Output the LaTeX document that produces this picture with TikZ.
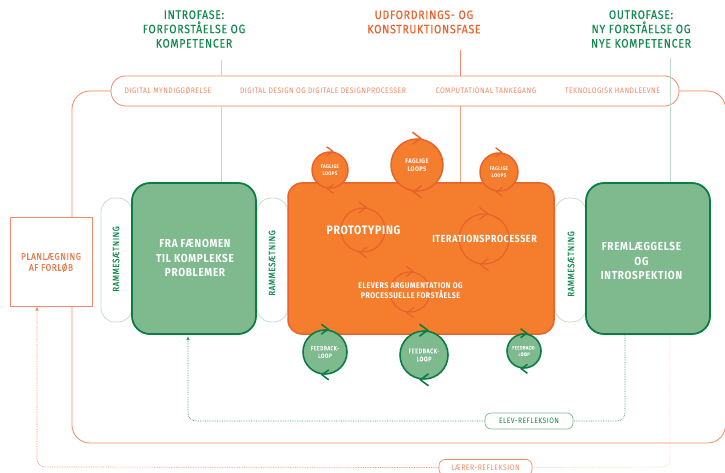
\documentclass[tikz,border=0pt]{standalone}
\usepackage{fontspec}
\setmainfont[FakeStretch=0.86,LetterSpace=6]{Fira Sans}
\usetikzlibrary{arrows.meta}
\definecolor{gline}{HTML}{0A7D45}
\definecolor{gfill}{HTML}{7FBA8F}
\definecolor{gpale}{HTML}{BFDCC8}
\definecolor{gtext}{HTML}{12894F}
\definecolor{oline}{HTML}{E8622C}
\definecolor{ofill}{HTML}{F47E2E}
\definecolor{oframe}{HTML}{F28A66}
\definecolor{opale}{HTML}{FBCDB8}
\newcommand{\semi}{\addfontfeature{FakeBold=0.25}}
\tikzset{
 txt/.style={inner sep=0pt,align=center},
 head/.style={txt,font=\fontsize{12.2}{14.3}\selectfont\semi},
 greenbox/.style={draw=gline,line width=1.8pt,fill=gfill,rounded corners=18pt,minimum width=124pt,minimum height=151pt,inner sep=0pt},
 frameb/.style={draw=gpale,line width=.7pt,fill=white,rounded corners=14pt,minimum width=31pt,minimum height=124pt,inner sep=0pt},
 rotlab/.style={txt,rotate=90,text=gtext,font=\fontsize{9.3}{10}\selectfont\semi},
 orangec/.style={circle,draw=oline,line width=1.5pt,fill=ofill,inner sep=0pt,text=white,align=center},
 greenc/.style={circle,draw=gline,line width=1.6pt,fill=gfill,inner sep=0pt,text=white,align=center},
 ring/.style={circle,draw=oline,line width=1.2pt,inner sep=0pt},
 pilllab/.style={txt,text=oframe,font=\fontsize{8}{9}\selectfont},
 boxtxt/.style={txt,text=white,font=\fontsize{11.6}{14.5}\selectfont\bfseries},
 elevdash/.style={draw=gline!80,line width=.7pt,densely dotted,rounded corners=8pt},
 larerdash/.style={draw=oframe,line width=.7pt,densely dotted,rounded corners=8pt},
}
% chevron pair on a circle: centre node, arm size, colour, line width
\newcommand{\loopmarks}[4]{%
 \path (#1.north) coordinate (ct) (#1.south) coordinate (cb);
 \draw[#3,line width=#4,line cap=butt,line join=miter] ([shift={(-#2*0.75pt,-#2*1pt)}]ct) -- ([shift={(#2*0.6pt,0pt)}]ct) -- ([shift={(-#2*0.75pt,#2*1pt)}]ct);
 \draw[#3,line width=#4,line cap=butt,line join=miter] ([shift={(#2*0.75pt,-#2*1pt)}]cb) -- ([shift={(-#2*0.6pt,0pt)}]cb) -- ([shift={(#2*0.75pt,#2*1pt)}]cb);
}
\begin{document}
\begin{tikzpicture}[x=1pt,y=-1pt]
\useasboundingbox (0,0) rectangle (725,473);
\clip (0,0) rectangle (725,473);
% headers
\node[head,text=gtext] (h1) at (194,29) {INTROFASE:\\FORFORSTÅELSE OG\\KOMPETENCER};
\node[head,text=oline] (h2) at (424,22) {UDFORDRINGS- OG\\KONSTRUKTIONSFASE};
\node[head,text=gtext] (h3) at (641,29) {OUTROFASE:\\NY FORSTÅELSE OG\\NYE KOMPETENCER};
% frame
\coordinate (frTL) at (72,91); \coordinate (frBL) at (72,443);
\coordinate (frBR) at (725.6,443); \coordinate (frTR) at (725.6,91);
\draw[oframe,line width=.8pt,rounded corners=18pt] (111,91) -- (frTL) -- (frBL) -- (frBR) -- (frTR) -- (679,91);
\draw[opale,line width=1pt] (111,91) -- (90,91);
\draw[opale,line width=1pt] (679,91) -- (708,91);
% pill
\node[draw=oframe,line width=.8pt,fill=white,rounded corners=14.5pt,minimum width=568pt,minimum height=30pt,inner sep=0pt] (pill) at (395,91) {};
\draw[opale,line width=.9pt] (125,106) -- (665,106);
\draw[gpale,line width=.9pt] (221,60) -- (221,76);
\draw[gpale,line width=.9pt] (221,106) -- (221,183);
\draw[oframe,line width=.8pt] (460,50) -- (460,76);
\draw[oframe!80,line width=.8pt] (460,106) -- (460,183);
\draw[gpale,line width=.8pt] (670,58) -- (670,183);
\node[pilllab] (p1) at (168,91) {DIGITAL MYNDIGGØRELSE};
\node[pilllab] (p2) at (323,91) {DIGITAL DESIGN OG DIGITALE DESIGNPROCESSER};
\node[pilllab] (p3) at (486,91) {COMPUTATIONAL TANKEGANG};
\node[pilllab] (p4) at (612.5,91) {TEKNOLOGISK HANDLEEVNE};
% plan box
\node[draw=oframe,line width=.9pt,fill=white,minimum width=82pt,minimum height=89pt,inner sep=0pt] (plan) at (51,261.5) {};
\node[txt,text=oline!85!white,font=\fontsize{9.6}{11}\selectfont\semi] (plant) at (51,262.5) {PLANLÆGNING\\AF FORLØB};
% reflection dashes
\coordinate (eR) at (625,335); \coordinate (eL) at (188,336);
\coordinate (lR) at (670,335); \coordinate (lL) at (37,306.5);
\node[draw=gfill,line width=.7pt,fill=white,rounded corners=6pt,minimum width=88pt,minimum height=16pt,inner sep=0pt,text=gtext,font=\fontsize{7.8}{9}\selectfont] (elev) at (529,421) {ELEV-REFLEKSION};
\node[draw=oframe,line width=.7pt,fill=white,rounded corners=6pt,minimum width=93pt,minimum height=16pt,inner sep=0pt,text=oframe,font=\fontsize{8}{9}\selectfont] (larer) at (485.5,467.5) {LÆRER-REFLEKSION};
\draw[elevdash] (eR) -- (625,421) -- (elev.east);
\draw[elevdash,-{Latex[length=4pt,width=3.5pt]}] (elev.west) -- (188,421) -- (eL);
\draw[larerdash,draw=opale] (lR) -- (670,467) -- (larer.east);
\draw[larerdash,-{Latex[length=4pt,width=3.5pt]}] (larer.west) -- (37,467) -- (lL);
% framing pills
\node[frameb] (f1) at (116.5,260) {}; \node[rotlab] (f1t) at (116,259) {RAMMESÆTNING};
\node[frameb] (f2) at (272.5,260) {}; \node[rotlab] (f2t) at (272,263) {RAMMESÆTNING};
\node[frameb] (f3) at (570.5,260) {}; \node[rotlab] (f3t) at (571,264) {RAMMESÆTNING};
% main boxes
\node[greenbox] (g1) at (194,258.5) {};
\node[greenbox] (g2) at (648,258.5) {};
\node[boxtxt] (g1t) at (195,258) {FRA FÆNOMEN\\TIL KOMPLEKSE\\PROBLEMER};
\node[boxtxt] (g2t) at (641.5,261) {FREMLÆGGELSE\\OG\\INTROSPEKTION};
\node[draw=oline,line width=1.5pt,fill=ofill,rounded corners=14pt,minimum width=266pt,minimum height=151pt,inner sep=0pt] (main) at (421,258.5) {};
% inner rings
\node[ring,minimum size=44pt] (r1) at (363,230) {}; \loopmarks{r1}{5.5}{oline}{1.2pt}
\node[ring,minimum size=50pt] (r2) at (484,239) {}; \loopmarks{r2}{6}{oline}{1.2pt}
\node[ring,minimum size=40pt] (r3) at (410,292) {}; \loopmarks{r3}{5}{oline}{1.2pt}
\node[txt,text=white,font=\fontsize{12.2}{14}\selectfont\bfseries] (t1) at (363.5,230) {PROTOTYPING};
\node[txt,text=white,font=\fontsize{10.3}{12}\selectfont\bfseries] (t2) at (484.5,239) {ITERATIONSPROCESSER};
\node[txt,text=white,font=\fontsize{8.2}{10}\selectfont\bfseries] (t3) at (410.5,291) {ELEVERS ARGUMENTATION OG\\PROCESSUELLE FORSTÅELSE};
% orange loops
\node[orangec,minimum size=36pt,font=\fontsize{5.2}{7}\selectfont\bfseries] (o1) at (330,170) {FAGLIGE\\LOOPS}; \loopmarks{o1}{4.5}{oline}{1.3pt}
\node[orangec,minimum size=52pt,font=\fontsize{6.6}{8}\selectfont\bfseries] (o2) at (417,165) {FAGLIGE\\LOOPS}; \loopmarks{o2}{6}{oline}{1.5pt}
\node[orangec,minimum size=38pt,font=\fontsize{5.2}{7}\selectfont\bfseries] (o3) at (499,172) {FAGLIGE\\LOOPS}; \loopmarks{o3}{4.5}{oline}{1.3pt}
% green loops
\node[greenc,minimum size=44pt,font=\fontsize{6}{7.5}\selectfont\semi] (c1) at (325,352) {FEEDBACK-\\LOOP}; \loopmarks{c1}{5}{gline}{1.5pt}
\node[greenc,minimum size=48pt,font=\fontsize{6.6}{8}\selectfont\semi] (c2) at (424,355) {FEEDBACK-\\LOOP}; \loopmarks{c2}{6}{gline}{1.6pt}
\node[greenc,minimum size=34pt,font=\fontsize{5}{6.5}\selectfont\semi] (c3) at (524,351) {FEEDBACK-\\LOOP}; \loopmarks{c3}{4.5}{gline}{1.5pt}
\end{tikzpicture}
\end{document}
